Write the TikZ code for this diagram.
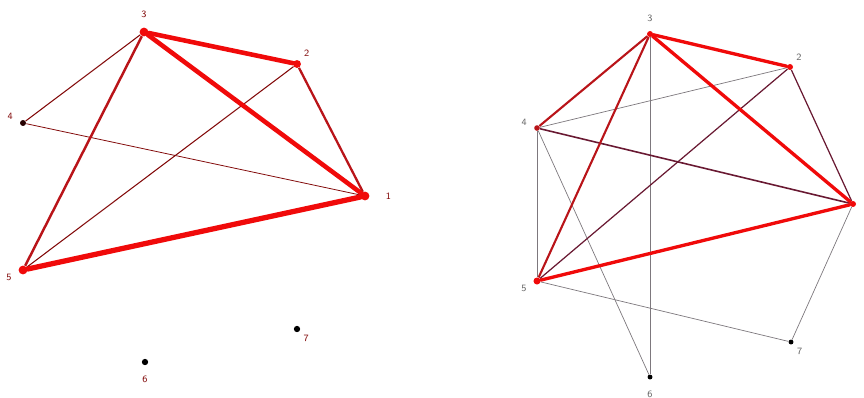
\documentclass[tikz,border=0pt]{standalone}
\usetikzlibrary{positioning}
\definecolor{hotred}{RGB}{240,10,10}
\definecolor{midred}{RGB}{185,20,25}
\definecolor{darkred}{RGB}{130,10,10}
\definecolor{plum}{RGB}{105,25,50}
\definecolor{thingray}{RGB}{125,120,125}
\tikzset{
  vtx/.style={circle, inner sep=0pt, minimum size=#1},
  vtx/.default=3.5pt,
  lbl/.style={font=\sffamily\fontsize{5.5}{6}\selectfont, inner sep=0pt},
  strong/.style={hotred, line width=2.2pt, line cap=round},
  medium/.style={midred, line width=1.2pt},
  weak/.style={darkred, line width=0.6pt},
  faint/.style={thingray, line width=0.4pt}
}
\begin{document}
\begin{tikzpicture}[x=0.02cm, y=-0.02cm]
  \useasboundingbox (0,0) rectangle (864,397);

  % left graph
  \begin{scope}[every label/.style={lbl, text=darkred}]
  \node[vtx=5pt, fill=hotred, label={[label distance=5pt]above:3}] (l3) at (144,32) {};
  \node[vtx=4.5pt, fill=hotred, label={[label distance=3pt]45:2}] (l2) at (297,64) {};
  \node[vtx=3.4pt, fill=black!85!red, label={[label distance=4pt]165:4}] (l4) at (23,123) {};
  \node[vtx=5pt, fill=hotred, label={[label distance=9pt]right:1}] (l1) at (365,196) {};
  \node[vtx=5pt, fill=hotred, label={[label distance=4pt]200:5}] (l5) at (23,270) {};
  \node[vtx=3.6pt, fill=black, label={[label distance=3pt]-45:7}] (l7) at (297,329) {};
  \node[vtx=3.6pt, fill=black, label={[label distance=6pt]below:6}] (l6) at (145,362) {};
  \end{scope}

  \draw[weak, line width=0.45pt] (l4) -- (l1);
  \draw[weak] (l3) -- (l4);
  \draw[weak] (l2) -- (l5);
  \draw[medium, line width=1.4pt] (l3) -- (l5);
  \draw[medium, line width=1.3pt] (l2) -- (l1);
  \draw[strong, line width=2.6pt] (l3) -- (l2);
  \draw[strong, line width=2.6pt] (l3) -- (l1);
  \draw[strong, line width=3pt] (l5) -- (l1);

  % right graph
  \begin{scope}[every label/.style={lbl, text=black!60}]
  \node[vtx=3.4pt, fill=hotred, label={[label distance=5pt]above:3}] (r3) at (650,34) {};
  \node[vtx=3.4pt, fill=hotred, label={[label distance=3pt]45:2}] (r2) at (790,67) {};
  \node[vtx=3.2pt, fill=midred, label={[label distance=4pt]165:4}] (r4) at (537,128) {};
  \node[vtx=3.4pt, fill=hotred] (r1) at (853,204) {};
  \node[vtx=4pt, fill=hotred, label={[label distance=4pt]200:5}] (r5) at (537,281) {};
  \node[vtx=2.8pt, fill=black, label={[label distance=3pt]-45:7}] (r7) at (791,342) {};
  \node[vtx=2.8pt, fill=black, label={[label distance=6pt]below:6}] (r6) at (650,377) {};
  \end{scope}

  \draw[faint] (r4) -- (r2);
  \draw[faint] (r4) -- (r5);
  \draw[faint] (r4) -- (r6);
  \draw[faint] (r3) -- (r6);
  \draw[faint] (r5) -- (r7);
  \draw[faint] (r1) -- (r7);
  \draw[plum, line width=0.7pt] (r2) -- (r5);
  \draw[plum, line width=0.7pt] (r2) -- (r1);
  \draw[plum, line width=0.9pt] (r4) -- (r1);
  \draw[medium] (r3) -- (r4);
  \draw[medium] (r3) -- (r5);
  \draw[strong, line width=1.9pt] (r3) -- (r2);
  \draw[strong, line width=1.9pt] (r3) -- (r1);
  \draw[strong, line width=1.9pt] (r5) -- (r1);
\end{tikzpicture}
\end{document}
